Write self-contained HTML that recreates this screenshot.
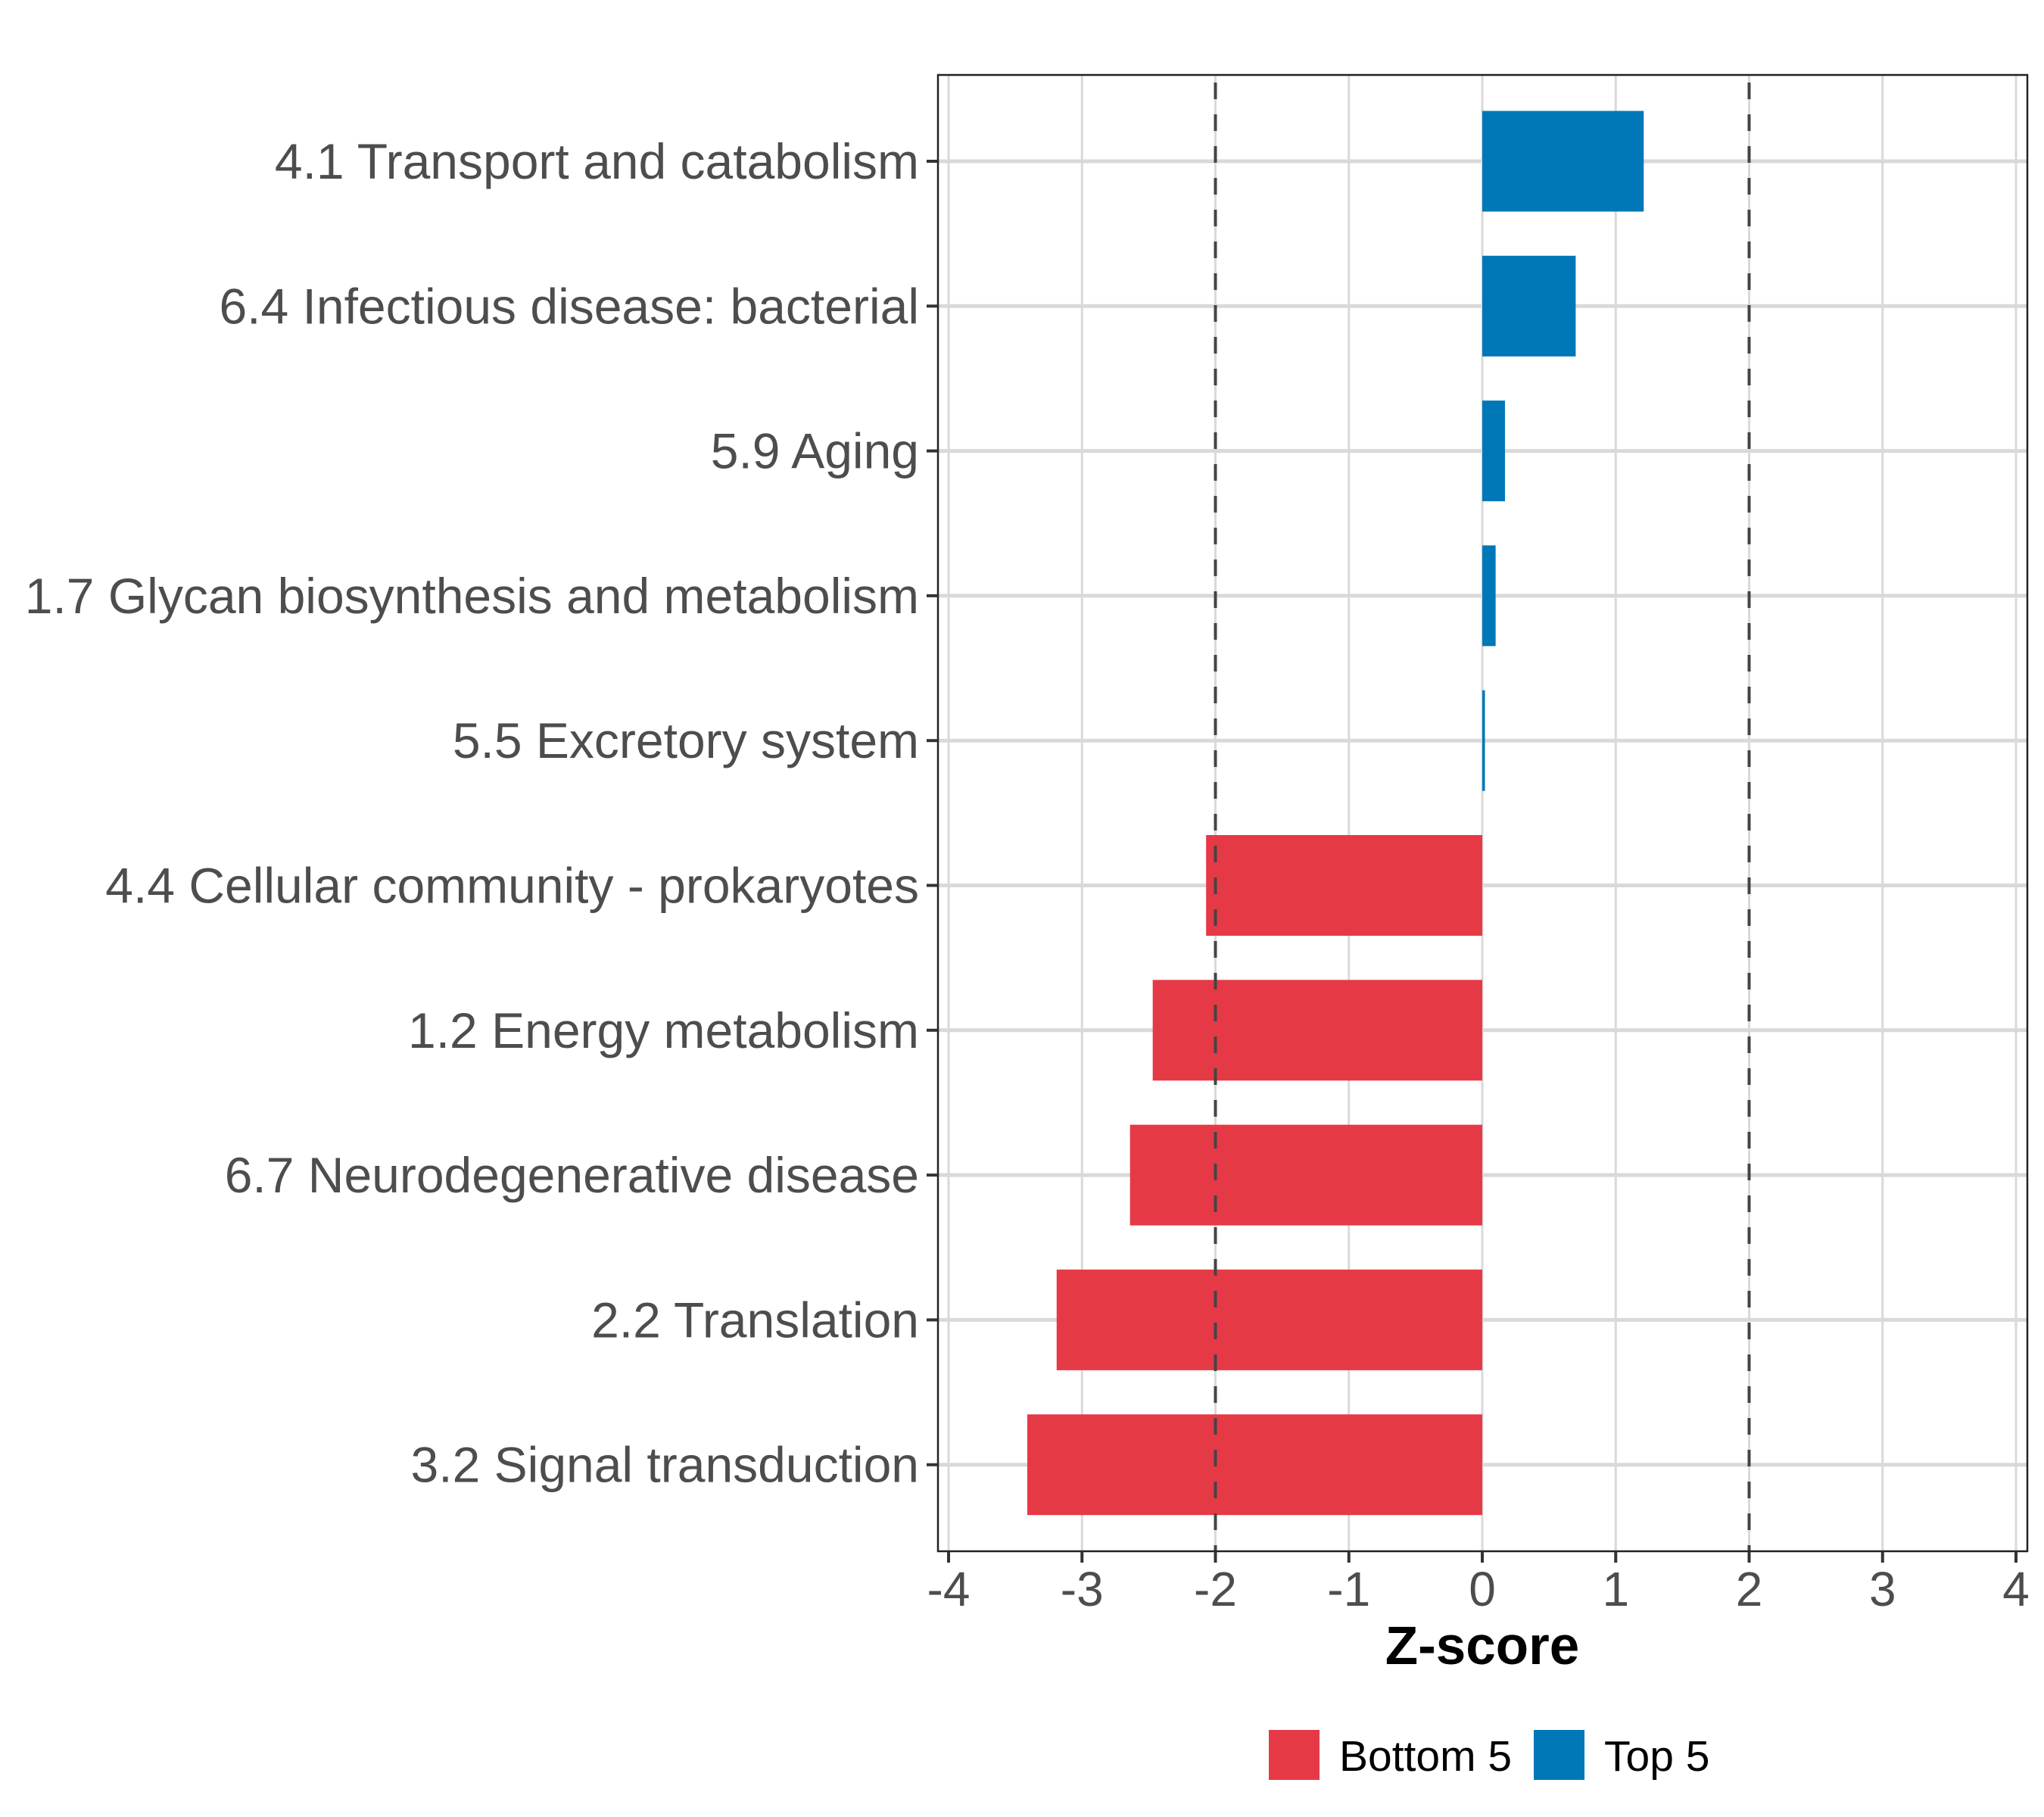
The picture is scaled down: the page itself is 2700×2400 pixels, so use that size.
<!DOCTYPE html>
<html><head><meta charset="utf-8"><style>
html,body{margin:0;padding:0;background:#fff;}
svg{display:block;font-family:"Liberation Sans",sans-serif;}
</style></head><body>
<svg id="chart" width="2700" height="2400" viewBox="0 0 2700 2400" xmlns="http://www.w3.org/2000/svg"></svg>
<script>
const categories = ["4.1 Transport and catabolism","6.4 Infectious disease: bacterial","5.9 Aging","1.7 Glycan biosynthesis and metabolism","5.5 Excretory system","4.4 Cellular community - prokaryotes","1.2 Energy metabolism","6.7 Neurodegenerative disease","2.2 Translation","3.2 Signal transduction"];
const values = [1.21, 0.70, 0.17, 0.10, 0.02, -2.07, -2.47, -2.64, -3.19, -3.41];
const groups = ["Top 5","Top 5","Top 5","Top 5","Top 5","Bottom 5","Bottom 5","Bottom 5","Bottom 5","Bottom 5"];
const xTicks = [-4,-3,-2,-1,0,1,2,3,4];
const xTickLabels = ["-4","-3","-2","-1","0","1","2","3","4"];
const refLines = [-2, 2];
const legendLabels = ["Bottom 5","Top 5"];

const NS = "http://www.w3.org/2000/svg";
const svg = document.getElementById("chart");
const L = 1239, R = 2678, T = 99, B = 2049;
const x0 = 1958, unit = 176.25;
const X = v => x0 + v * unit;
const rowTop = 213, rowStep = 191.3;
const Y = i => rowTop + i * rowStep;
const barH = 133;
const colors = {"Bottom 5":"#e63946","Top 5":"#0077b6"};

function el(tag, attrs, parent){
  const e = document.createElementNS(NS, tag);
  for (const k in attrs) e.setAttribute(k, attrs[k]);
  (parent||svg).appendChild(e);
  return e;
}
xTicks.forEach((t,i)=>{
  const g = el("line",{x1:X(t),x2:X(t),y1:T,y2:B,stroke:"#d9d9d9","stroke-width":3});
  
  
});
categories.forEach((c,i)=>{
  const g = el("line",{x1:L,x2:R,y1:Y(i),y2:Y(i),stroke:"#d9d9d9","stroke-width":5});
  
  
});
values.forEach((v,i)=>{
  const x = Math.min(X(0),X(v)), w = Math.abs(X(v)-X(0));
  const b = el("rect",{x:x,y:Y(i)-barH/2,width:Math.max(w,2),height:barH,fill:colors[groups[i]]});
  
  
});
refLines.forEach(r=>{
  const d = el("line",{x1:X(r),x2:X(r),y1:T,y2:B,stroke:"#444","stroke-width":4,"stroke-dasharray":"22 20","stroke-dashoffset":"-10"});
  
  
});
const border = el("rect",{x:L,y:T,width:R-L,height:B-T,fill:"none",stroke:"#222","stroke-width":2.5});


categories.forEach((c,i)=>{
  const tk = el("line",{x1:L-15,x2:L,y1:Y(i),y2:Y(i),stroke:"#333","stroke-width":4});
  
  
  const t = el("text",{x:L-25,y:Y(i)+23,"text-anchor":"end","font-size":66,fill:"#4d4d4d"});
  t.textContent = c;
  
  
});
xTicks.forEach((v,i)=>{
  const tk = el("line",{x1:X(v),x2:X(v),y1:B,y2:B+15,stroke:"#333","stroke-width":4});
  
  
  const t = el("text",{x:X(v),y:B+72,"text-anchor":"middle","font-size":64,fill:"#4d4d4d"});
  t.textContent = xTickLabels[i];
  
  
});
const xt = el("text",{x:X(0),y:2198,"text-anchor":"middle","font-size":71,"font-weight":"bold",fill:"#000"});
xt.textContent = "Z-score";


const legX = [1676, 2026];
legendLabels.forEach((lab,i)=>{
  const k = el("rect",{x:legX[i],y:2285,width:67,height:66,fill:colors[lab]});
  
  
  const t = el("text",{x:legX[i]+93,y:2339,"font-size":57,fill:"#000"});
  t.textContent = lab;
  
  
});
</script>
</body></html>
